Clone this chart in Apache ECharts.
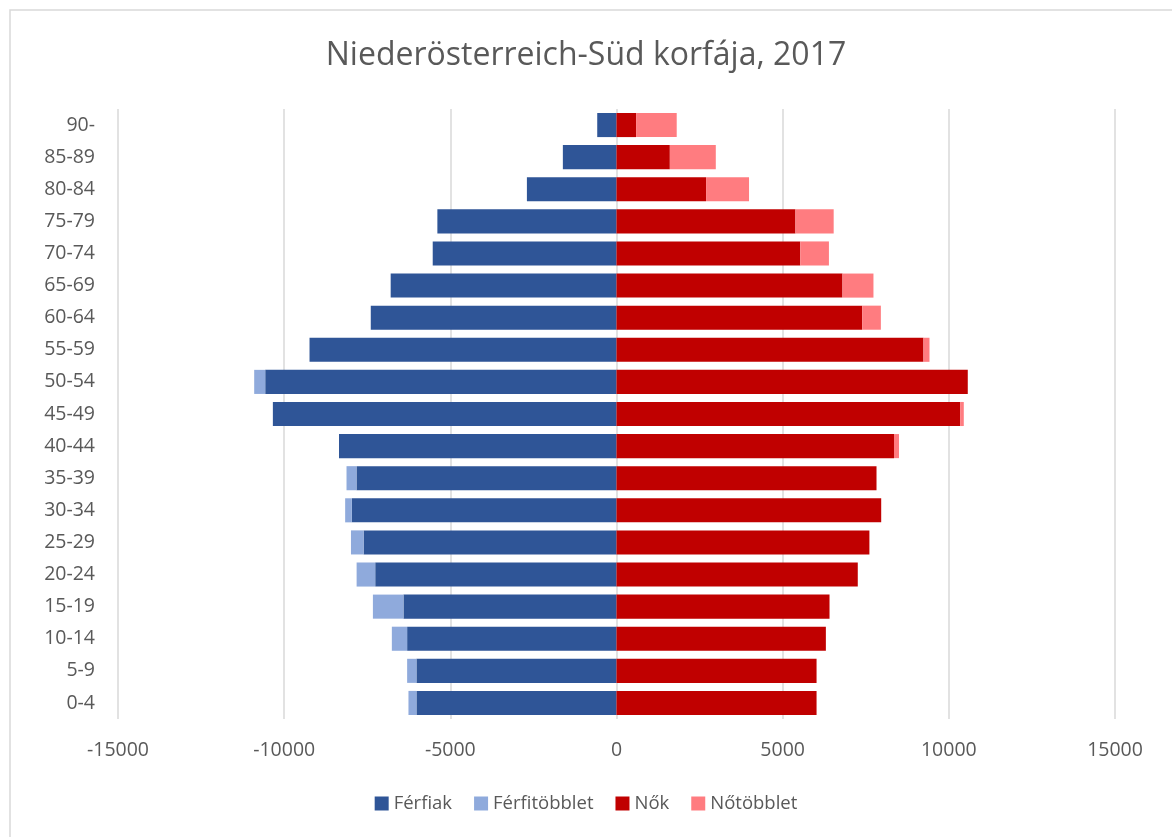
<!DOCTYPE html>
<html>
<head>
<meta charset="utf-8">
<script src="https://cdn.jsdelivr.net/npm/echarts@6/dist/echarts.min.js"></script>
<style>
  html, body { margin: 0; padding: 0; background: #fff; }
  #chart { width: 1172px; height: 837px; }
</style>
</head>
<body>
<div id="chart"></div>
<script>
// korcsoportok alulról felfelé
const ageGroups = ['0-4', '5-9', '10-14', '15-19', '20-24', '25-29', '30-34', '35-39', '40-44',
  '45-49', '50-54', '55-59', '60-64', '65-69', '70-74', '75-79', '80-84', '85-89', '90-'];

// férfiak (negatív oldal)
const ferfiak = [-6020, -6020, -6300, -6410, -7260, -7610, -7965, -7824, -8350,
  -10340, -10570, -9237, -7394, -6795, -5530, -5390, -2696, -1614, -580];
const ferfiTobblet = [-240, -280, -460, -920, -560, -380, -200, -300, 0,
  0, -332, 0, 0, 0, 0, 0, 0, 0, 0];

// nők (pozitív oldal)
const nok = [6020, 6020, 6300, 6410, 7260, 7610, 7965, 7824, 8350,
  10340, 10570, 9237, 7394, 6800, 5530, 5385, 2696, 1605, 590];
const noTobblet = [0, 0, 0, 0, 0, 0, 0, 0, 150,
  110, 0, 181, 561, 932, 862, 1150, 1292, 1383, 1222];

const xTicks = { min: -15000, max: 15000, interval: 5000 };

const chart = echarts.init(document.getElementById('chart'));
const textColor = '#595959';
const font = 'Open Sans';

function barSeries(name, data, color) {
  return {
    name: name,
    type: 'bar',
    stack: 'total',
    data: data,
    barCategoryGap: '25%',
    itemStyle: { color: color },
    emphasis: { disabled: true }
  };
}

chart.setOption({
  animation: false,
  textStyle: { fontFamily: font },
  title: {
    text: 'Niederösterreich-Süd korfája, 2017',
    left: 'center',
    top: 35,
    textStyle: { fontSize: 32, fontWeight: 'normal', color: textColor, fontFamily: font }
  },
  graphic: [{
    type: 'rect',
    shape: { x: 10, y: 10, width: 1180, height: 850 },
    style: { fill: 'none', stroke: '#d9d9d9', lineWidth: 1.5 },
    silent: true
  }],
  legend: {
    bottom: 19,
    left: 'center',
    itemWidth: 14,
    itemHeight: 14,
    itemGap: 22,
    icon: 'rect',
    textStyle: { fontSize: 18.5, color: textColor, fontFamily: font },
    data: ['Férfiak', 'Férfitöbblet', 'Nők', 'Nőtöbblet']
  },
  grid: { left: 118, right: 57, top: 109, bottom: 118 },
  xAxis: {
    type: 'value',
    min: xTicks.min,
    max: xTicks.max,
    interval: xTicks.interval,
    axisLine: { show: false },
    axisTick: { show: false },
    axisLabel: { fontSize: 19.5, color: textColor, margin: 21, formatter: v => String(v) },
    splitLine: { lineStyle: { color: '#d9d9d9', width: 1.5 } }
  },
  yAxis: {
    type: 'category',
    data: ageGroups,
    axisLine: { show: false },
    axisTick: { show: false },
    axisLabel: { fontSize: 19.5, color: textColor, margin: 23 }
  },
  series: [
    barSeries('Férfiak', ferfiak, '#2f5597'),
    barSeries('Férfitöbblet', ferfiTobblet, '#8faadc'),
    barSeries('Nők', nok, '#c00000'),
    barSeries('Nőtöbblet', noTobblet, '#ff7c80')
  ]
});
</script>
</body>
</html>
